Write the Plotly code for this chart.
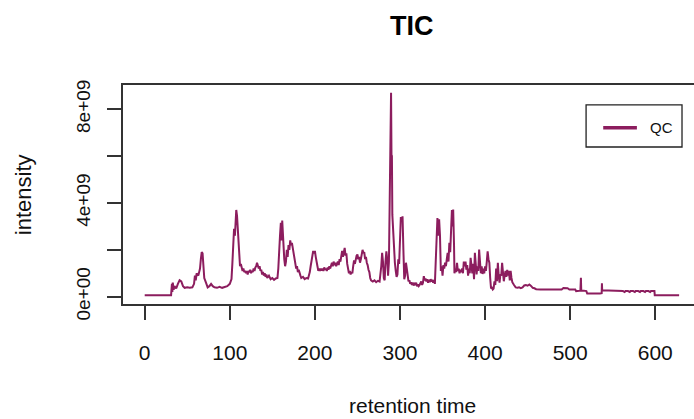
import plotly.graph_objects as go

# Total ion chromatogram of the QC sample
retention_time = [
    0, 31, 32, 32.5, 33, 34, 35, 37, 39, 41, 43, 45, 47, 50, 53, 56, 58, 59, 60, 61,
    63, 65, 66, 67, 68, 69, 70, 72, 74, 76, 78, 80, 82, 85, 88, 91, 94, 97, 100, 102,
    103, 104, 105, 106, 107, 107.6, 108.5, 109.5, 110, 111, 112, 113, 114, 115, 116, 117, 118, 119, 120, 121,
    122, 123, 124, 125, 126, 127, 128, 129, 130, 131, 132, 133, 134, 135, 136, 137, 138, 139, 140, 141,
    142, 143, 144, 146, 148, 150, 152, 154, 156, 157, 158, 159, 160, 161, 161.6, 162.5, 163, 164, 165, 166,
    167, 168, 169, 170, 171, 172, 173, 174, 175, 176, 177, 178, 179, 180, 181, 182, 183, 184, 186, 188,
    190, 192, 193, 194, 195, 196, 197, 198, 199, 200, 201, 202, 203, 204, 205, 206, 207, 208, 209, 210,
    211, 212, 213, 214, 215, 216, 217, 218, 219, 220, 221, 222, 223, 224, 225, 226, 227, 228, 229, 230,
    231, 232, 233, 234, 235, 236, 237, 238, 239, 240, 241, 242, 243, 244, 245, 246, 247, 248, 249, 250,
    251, 252, 253, 254, 255, 256, 257, 258, 259, 260, 261, 262, 263, 264, 265, 266, 268, 270, 272, 274,
    276, 277, 278, 279, 280, 281, 282, 283, 284, 285, 286, 287, 287.5, 288, 288.5, 289, 289.5, 290, 290.5, 291,
    292, 293, 294, 295, 296, 297, 298, 299, 300, 301, 302, 303, 304, 305, 306, 307, 308, 309, 310, 311,
    312, 313, 314, 315, 316, 317, 318, 319, 320, 321, 322, 323, 324, 325, 326, 327, 328, 329, 330, 331,
    332, 333, 334, 335, 336, 337, 338, 339, 340, 341, 342, 343, 344, 345, 346, 347, 348, 349, 350, 351,
    352, 353, 354, 355, 356, 357, 358, 359, 360, 361, 362, 362.5, 363.5, 364, 365, 366, 367, 368, 369, 370,
    371, 372, 373, 374, 375, 376, 377, 378, 379, 380, 381, 382, 383, 384, 385, 386, 387, 388, 389, 390,
    391, 392, 393, 394, 395, 396, 397, 398, 399, 400, 401, 402, 403, 404, 405, 406, 407, 408, 409, 410,
    411, 412, 413, 414, 415, 416, 417, 418, 419, 420, 421, 422, 423, 424, 425, 426, 427, 428, 429, 430,
    431, 432, 434, 436, 438, 440, 442, 444, 446, 448, 450, 452, 454, 456, 458, 460, 465, 470, 475, 480,
    485, 490, 492, 495, 497, 499, 503, 506, 507, 510, 512, 512.6, 513, 516, 519, 520, 525, 530, 535, 537,
    537.3, 537.6, 545, 552, 557, 559, 562, 564, 565, 568, 570, 571, 574, 576, 577, 580, 582, 583, 586, 588,
    589, 592, 594, 595, 599, 599.4, 628,
]

# Intensity in units of 1e9 counts
intensity_e9 = [
    0.06, 0.06, 0.55, 0.2, 0.6, 0.3, 0.45, 0.35, 0.55, 0.7, 0.65, 0.45, 0.38, 0.4, 0.38, 0.4, 0.55, 0.9, 0.7, 1.0,
    0.9, 1.2, 1.6, 1.9, 1.85, 1.0, 0.8, 0.6, 0.4, 0.45, 0.55, 0.45, 0.4, 0.38, 0.42, 0.38, 0.4, 0.45, 0.55, 0.75,
    1.4, 2.1, 2.9, 2.6, 3.3, 3.7, 3.45, 2.9, 2.3, 1.6, 1.3, 1.4, 1.2, 1.1, 1.2, 1.05, 1.1, 1.0, 1.1, 0.95,
    1.1, 1.05, 1.15, 1.0, 1.1, 1.05, 1.2, 1.1, 1.25, 1.3, 1.45, 1.35, 1.2, 1.3, 1.1, 1.15, 0.95, 1.05, 0.9, 1.0,
    0.85, 0.95, 0.8, 0.9, 0.75, 0.8, 0.72, 0.78, 0.8, 1.2, 1.7, 2.6, 3.15, 2.4, 3.25, 2.6, 2.0, 1.6, 1.3, 1.5,
    2.0, 1.7, 2.2, 2.0, 2.4, 2.2, 2.3, 2.05, 1.8, 1.6, 1.4, 1.2, 1.3, 1.05, 1.15, 0.95, 0.9, 0.8, 0.85, 0.75,
    0.8, 0.78, 0.9, 1.05, 1.3, 1.5, 1.8, 1.95, 1.85, 1.95, 1.7, 1.55, 1.3, 1.1, 1.2, 1.1, 1.2, 1.12, 1.2, 1.1,
    1.25, 1.15, 1.2, 1.1, 1.25, 1.15, 1.3, 1.2, 1.35, 1.45, 1.3, 1.5, 1.35, 1.45, 1.3, 1.4, 1.5, 1.35, 1.6, 1.5,
    1.75, 1.95, 1.7, 2.0, 2.08, 1.75, 1.85, 1.4, 1.15, 1.0, 1.1, 0.95, 1.05, 1.0, 1.3, 1.55, 1.4, 1.6, 1.75, 1.8,
    1.6, 1.7, 1.45, 1.6, 1.85, 2.0, 1.85, 1.9, 1.6, 1.7, 1.45, 1.35, 1.15, 1.05, 0.8, 0.7, 0.65, 0.7, 0.62, 0.68,
    0.65, 0.9, 1.3, 1.87, 1.5, 0.8, 0.7, 1.5, 1.94, 1.6, 0.9, 1.5, 2.6, 4.5, 6.05, 6.1, 8.7, 6.05, 6.0, 3.5,
    2.6, 2.0, 1.45, 1.1, 0.85, 0.95, 1.6, 1.4, 2.2, 3.4, 3.2, 3.43, 2.0, 0.75, 0.9, 1.45, 1.2, 0.8, 0.65, 0.7,
    0.55, 0.62, 0.5, 0.6, 0.48, 0.55, 0.5, 0.6, 0.45, 0.52, 0.45, 0.5, 0.55, 0.65, 0.5, 0.6, 0.88, 0.7, 0.78, 0.65,
    0.75, 0.6, 0.72, 0.62, 0.75, 0.65, 0.72, 0.6, 0.72, 0.55, 1.5, 3.0, 3.36, 2.6, 3.3, 2.6, 1.1, 1.3, 0.9, 1.35,
    1.2, 1.45, 1.3, 1.6, 1.87, 1.5, 2.3, 1.9, 3.2, 3.7, 3.0, 3.72, 2.2, 1.0, 1.2, 1.05, 1.45, 1.1, 1.2, 1.0,
    1.15, 1.05, 1.2, 1.0, 1.5, 1.3, 1.5, 1.15, 1.35, 0.9, 1.2, 1.0, 1.66, 1.2, 1.0, 1.4, 0.75, 1.87, 1.2, 0.95,
    1.3, 1.1, 2.01, 1.4, 1.0, 1.3, 0.97, 1.2, 1.0, 1.3, 1.1, 1.5, 1.94, 1.6, 1.45, 0.8, 0.35, 0.38, 0.31, 0.35,
    0.66, 0.5, 1.2, 0.66, 1.45, 0.9, 0.6, 0.95, 0.9, 1.45, 1.0, 0.66, 0.9, 1.1, 0.85, 1.15, 0.9, 1.1, 0.7, 1.1,
    0.8, 0.62, 0.5, 0.4, 0.38, 0.4, 0.37, 0.4, 0.48, 0.5, 0.47, 0.52, 0.46, 0.38, 0.36, 0.32, 0.31, 0.31, 0.3, 0.31,
    0.3, 0.31, 0.37, 0.38, 0.36, 0.31, 0.3, 0.31, 0.24, 0.24, 0.26, 0.81, 0.26, 0.26, 0.24, 0.14, 0.13, 0.14, 0.14, 0.15,
    0.57, 0.27, 0.27, 0.27, 0.27, 0.24, 0.24, 0.2, 0.24, 0.24, 0.2, 0.24, 0.24, 0.2, 0.24, 0.24, 0.2, 0.24, 0.24, 0.2,
    0.24, 0.24, 0.2, 0.24, 0.24, 0.06, 0.06,
]

sample_name = "QC"
x_ticks = [0, 100, 200, 300, 400, 500, 600]
y_ticks = [0, 2e9, 4e9, 6e9, 8e9]
y_tick_labels = ["0e+00", "", "4e+09", "", "8e+09"]

intensity = [v * 1e9 for v in intensity_e9]

LINE_COLOR = "#8C1D5E"
AXIS_COLOR = "#333333"
TEXT_COLOR = "#111111"
FONT = "Liberation Sans, Arial, sans-serif"

fig = go.Figure()
fig.add_trace(go.Scatter(
    x=retention_time, y=intensity, mode="lines", name=sample_name,
    line=dict(color=LINE_COLOR, width=2), showlegend=False,
))

fig.update_layout(
    width=694, height=419,
    margin=dict(l=123, r=0, t=85, b=115),
    paper_bgcolor="white", plot_bgcolor="white",
    font=dict(family=FONT, color=TEXT_COLOR),
)

fig.update_xaxes(
    range=[-25.5, 645.5], tickvals=x_ticks, ticktext=[str(t) for t in x_ticks],
    showgrid=False, zeroline=False,
    showline=True, mirror=True, linecolor=AXIS_COLOR, linewidth=1.5,
    ticks="outside", ticklen=14, tickwidth=1.5, tickcolor=AXIS_COLOR,
    tickfont=dict(size=21, family=FONT, color=TEXT_COLOR),
    ticklabelstandoff=15,
)
fig.update_yaxes(
    range=[-0.31e9, 9.03e9], tickvals=y_ticks, ticktext=y_tick_labels,
    showgrid=False, zeroline=False,
    showline=True, mirror=False, linecolor=AXIS_COLOR, linewidth=1.5,
    ticks="outside", ticklen=14, tickwidth=1.5, tickcolor=AXIS_COLOR,
    tickangle=-90, tickfont=dict(size=19, family=FONT, color=TEXT_COLOR),
    ticklabelstandoff=10,
)

# Title and axis titles
fig.add_annotation(
    text="<b>TIC</b>", xref="paper", yref="paper", x=0.507, y=1.268,
    xanchor="center", yanchor="middle", showarrow=False,
    font=dict(size=27, family=FONT, color="#000000"),
)
fig.add_annotation(
    text="retention time", xref="paper", yref="paper", x=0.507, y=-0.462,
    xanchor="center", yanchor="middle", showarrow=False,
    font=dict(size=21, family=FONT, color=TEXT_COLOR),
)
fig.add_annotation(
    text="intensity", xref="paper", yref="paper", x=-0.174, y=0.5,
    xanchor="center", yanchor="middle", textangle=-90, showarrow=False,
    font=dict(size=22, family=FONT, color=TEXT_COLOR),
)

# Legend box in the top-right corner of the plotting region
fig.add_shape(
    type="rect", xref="paper", yref="paper", x0=0.811, x1=0.979, y0=0.717, y1=0.909,
    line=dict(color="#222222", width=1.3), fillcolor="white", layer="above",
)
fig.add_shape(
    type="line", xref="paper", yref="paper", x0=0.841, x1=0.900, y0=0.805, y1=0.805,
    line=dict(color=LINE_COLOR, width=3.5), layer="above",
)
fig.add_annotation(
    text=sample_name, xref="paper", yref="paper", x=0.919, y=0.805,
    xanchor="left", yanchor="middle", showarrow=False,
    font=dict(size=15, family=FONT, color=TEXT_COLOR),
)

fig.write_html("out.html")
